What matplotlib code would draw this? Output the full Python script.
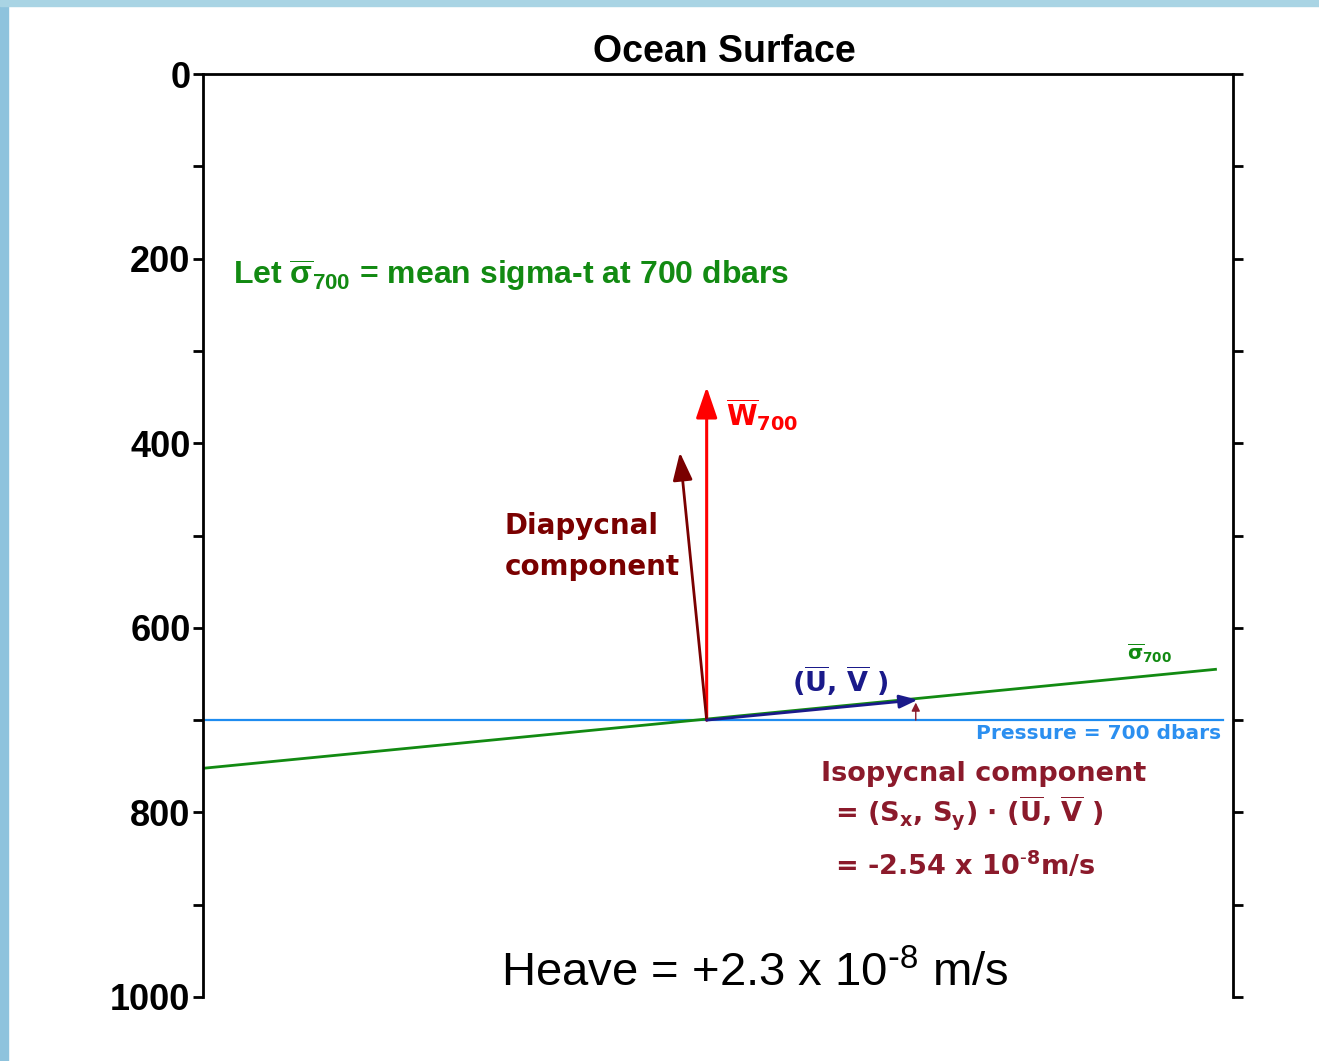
import matplotlib.pyplot as plt
from matplotlib.patches import Rectangle

plt.rcParams['mathtext.default'] = 'regular'

# -------- DATA --------
depth_major = [0, 200, 400, 600, 800, 1000]
depth_minor = [100, 300, 500, 700, 900]
pressure_level = 700
pressure_x = [0.02, 9.9]

isopycnal_x = [0.02, 9.83]
isopycnal_depth = [752, 645]

origin = (4.89, 700)
w700_tip = (4.89, 339)
diapycnal_tip = (4.63, 410)
uv_tip = (6.94, 678)
iso_arrow_from = (6.92, 700)
iso_arrow_to = (6.92, 681)

# -------- FIGURE --------
fig = plt.figure(figsize=(13.19, 10.61), dpi=100)
fig.patch.set_facecolor('white')
fig.patches.append(Rectangle((0, 0), 8 / 1319, 1, transform=fig.transFigure,
                             color='#8ec3dd', zorder=0))
fig.patches.append(Rectangle((0, 1 - 6 / 1061), 1, 6 / 1061, transform=fig.transFigure,
                             color='#a9d4e4', zorder=0))

ax = fig.add_axes([203 / 1319, 1 - 997 / 1061, 1030 / 1319, 923 / 1061])
ax.set_xlim(0, 10)
ax.set_ylim(1000, 0)

# spines / ticks
ax.spines['bottom'].set_visible(False)
for s in ['left', 'right', 'top']:
    ax.spines[s].set_linewidth(2)
ax.set_xticks([])
ax.set_yticks(depth_major)
ax.set_yticks(depth_minor, minor=True)
ax.set_yticklabels([str(d) for d in depth_major], fontsize=26, fontweight='bold',
                   family='Liberation Sans')
ax.tick_params(axis='y', which='both', direction='out', length=7, width=2,
               left=True, right=True, labelright=False, pad=2)

# -------- LINES --------
ax.plot(pressure_x, [pressure_level, pressure_level], color='#1e8cf0', lw=1.6, zorder=2)
ax.plot(isopycnal_x, isopycnal_depth, color='#128a12', lw=2, zorder=2)

# -------- ARROWS --------
def arrow(tail, tip, color, lw, hl, hw):
    ax.annotate('', xy=tip, xytext=tail,
                arrowprops=dict(arrowstyle=f'-|>,head_length={hl},head_width={hw}',
                                color=color, lw=lw, shrinkA=0, shrinkB=0),
                zorder=3)

arrow(origin, w700_tip, '#ff0000', 2.2, 1.9, 0.65)
arrow(origin, diapycnal_tip, '#7a0000', 2.0, 1.7, 0.6)
arrow(origin, uv_tip, '#1a1a8a', 2.0, 1.1, 0.4)
arrow(iso_arrow_from, iso_arrow_to, '#8b1a2b', 1.0, 0.5, 0.25)

# -------- TEXT --------
ax.text(0.506, 1.024, 'Ocean Surface', transform=ax.transAxes, ha='center', va='center',
        fontsize=27, fontweight='bold', family='Liberation Sans')

ax.text(0.29, 218, r'Let $\overline{\sigma}_{700}$ = mean sigma-t at 700 dbars',
        color='#128a12', fontsize=23, fontweight='bold', family='Liberation Sans',
        va='center')

ax.text(5.08, 369, r'$\overline{W}_{700}$', color='#ff0000', fontsize=20,
        fontweight='bold', family='DejaVu Sans', va='center')

ax.text(2.93, 512, 'Diapycnal\ncomponent', color='#7a0000', fontsize=20,
        fontweight='bold', family='DejaVu Sans', va='center', linespacing=1.6)

ax.text(5.72, 657, r'($\overline{U}$, $\overline{V}$ )', color='#1a1a8a', fontsize=19.5,
        fontweight='bold', family='DejaVu Sans', va='center')

ax.text(8.97, 628, r'$\overline{\sigma}_{700}$', color='#128a12', fontsize=14,
        fontweight='bold', family='DejaVu Sans', va='center')

ax.text(9.88, 715, 'Pressure = 700 dbars', color='#2b8ff0', fontsize=14.5,
        fontweight='bold', family='DejaVu Sans', ha='right', va='center')

ax.text(6.0, 758, 'Isopycnal component', color='#8b1a2b', fontsize=19.5,
        fontweight='bold', family='DejaVu Sans', va='center')
ax.text(6.14, 801, r'= (S$_x$, S$_y$) $\cdot$ ($\overline{U}$, $\overline{V}$ )',
        color='#8b1a2b', fontsize=19.5, fontweight='bold', family='DejaVu Sans',
        va='center')
ax.text(6.14, 858, r'= -2.54 x 10$^{\text{-}8}$m/s', color='#8b1a2b', fontsize=19.5,
        fontweight='bold', family='DejaVu Sans', va='center')

ax.text(5.36, 975, r'Heave = +2.3 x 10$^{\text{-}8}$ m/s', color='black', fontsize=34,
        family='Liberation Sans', ha='center', va='center')

fig.savefig('out.png', dpi=100, facecolor=fig.get_facecolor())
